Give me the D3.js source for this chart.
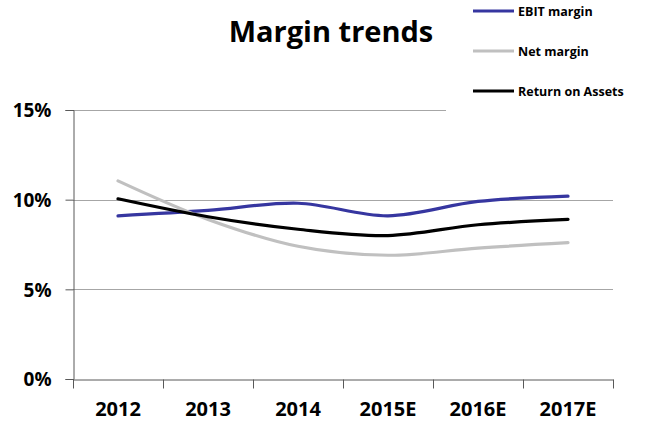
<!DOCTYPE html>
<html>
<head>
<meta charset="utf-8">
<script src="https://cdn.jsdelivr.net/npm/d3@7"></script>
<style>
  body { margin: 0; background: #fff; }
  text { font-family: "Open Sans", sans-serif; font-weight: bold; fill: #000; }
</style>
</head>
<body>
<svg id="chart" width="645" height="426"></svg>
<script>
var years = ["2012", "2013", "2014", "2015E", "2016E", "2017E"];
var ebit_margin = [9.1, 9.4, 9.8, 9.1, 9.9, 10.2];
var net_margin = [11.05, 8.9, 7.4, 6.9, 7.3, 7.6];
var return_on_assets = [10.05, 9.05, 8.35, 8.0, 8.6, 8.9];
var y_ticks = [0, 5, 10, 15];

var series = [
   {"name": "EBIT margin", "values": ebit_margin, "color": "#3636a0"},
   {"name": "Net margin", "values": net_margin, "color": "#c0c0c0"},
   {"name": "Return on Assets", "values": return_on_assets, "color": "#000000"}
];

var svg_canvas = d3.select("#chart");

var x_scale = d3.scaleBand().domain(years).range([73, 613]);
var y_scale = d3.scaleLinear().domain([0, 15]).range([379, 110]);

// gridlines
svg_canvas.append("g").attr("id", "grid")
   .selectAll("line").data(y_ticks.filter(function(d) { return d > 0; }))
   .enter().append("line")
   .attr("x1", 73).attr("x2", 613)
   .attr("y1", function(d) { return Math.round(y_scale(d)) + 0.5; })
   .attr("y2", function(d) { return Math.round(y_scale(d)) + 0.5; })
   .attr("stroke", "#a6a6a6").attr("stroke-width", 1);

// y axis
var y_axis = svg_canvas.append("g").attr("transform", "translate(73.5,0)")
   .call(d3.axisLeft(y_scale).tickValues(y_ticks).tickSize(8).tickPadding(14)
      .tickFormat(function(d) { return d + "%"; }));
y_axis.select(".domain").attr("stroke", "#595959");
y_axis.selectAll(".tick line").attr("stroke", "#595959");
y_axis.selectAll("text").style("font-size", "19px").attr("dy", "0.36em");

// x axis
var x_axis = svg_canvas.append("g").attr("transform", "translate(0,379.5)")
   .call(d3.axisBottom(x_scale).tickSize(0).tickPadding(22));
x_axis.select(".domain").attr("stroke", "#595959");
x_axis.selectAll("text").style("font-size", "20px");
x_axis.selectAll("line.band_tick")
   .data(years.concat(["end"])).enter().append("line").attr("class", "band_tick")
   .attr("x1", function(d, i) { return Math.round(73 + i * x_scale.step()) + 0.5; })
   .attr("x2", function(d, i) { return Math.round(73 + i * x_scale.step()) + 0.5; })
   .attr("y1", 0).attr("y2", 9).attr("stroke", "#595959");

// lines
var line_gen = d3.line()
   .x(function(d, i) { return x_scale(years[i]) + x_scale.bandwidth() / 2; })
   .y(function(d) { return y_scale(d); })
   .curve(d3.curveCatmullRom.alpha(0.5));

svg_canvas.append("g").attr("id", "series")
   .selectAll("path").data(series).enter().append("path")
   .attr("d", function(d) { return line_gen(d.values); })
   .attr("fill", "none")
   .attr("stroke", function(d) { return d.color; })
   .attr("stroke-width", 3.2)
   .attr("stroke-linecap", "round");

// title
svg_canvas.append("text").text("Margin trends")
   .attr("x", 331).attr("y", 42)
   .attr("text-anchor", "middle")
   .style("font-size", "29px");

// legend, its white box hides the end of the top gridline
var legend = svg_canvas.append("g").attr("id", "legend");
legend.append("rect").attr("x", 446).attr("y", 0).attr("width", 199).attr("height", 111).attr("fill", "#fff");
var legend_items = legend.selectAll("g.item").data(series).enter().append("g").attr("class", "item")
   .attr("transform", function(d, i) { return "translate(473," + (11 + i * 40) + ")"; });
legend_items.append("line")
   .attr("x1", 0).attr("x2", 41).attr("y1", 0).attr("y2", 0)
   .attr("stroke", function(d) { return d.color; }).attr("stroke-width", 3);
legend_items.append("text").text(function(d) { return d.name; })
   .attr("x", 45).attr("y", 0).attr("dy", "0.36em")
   .style("font-size", "12.5px");
</script>
</body>
</html>
